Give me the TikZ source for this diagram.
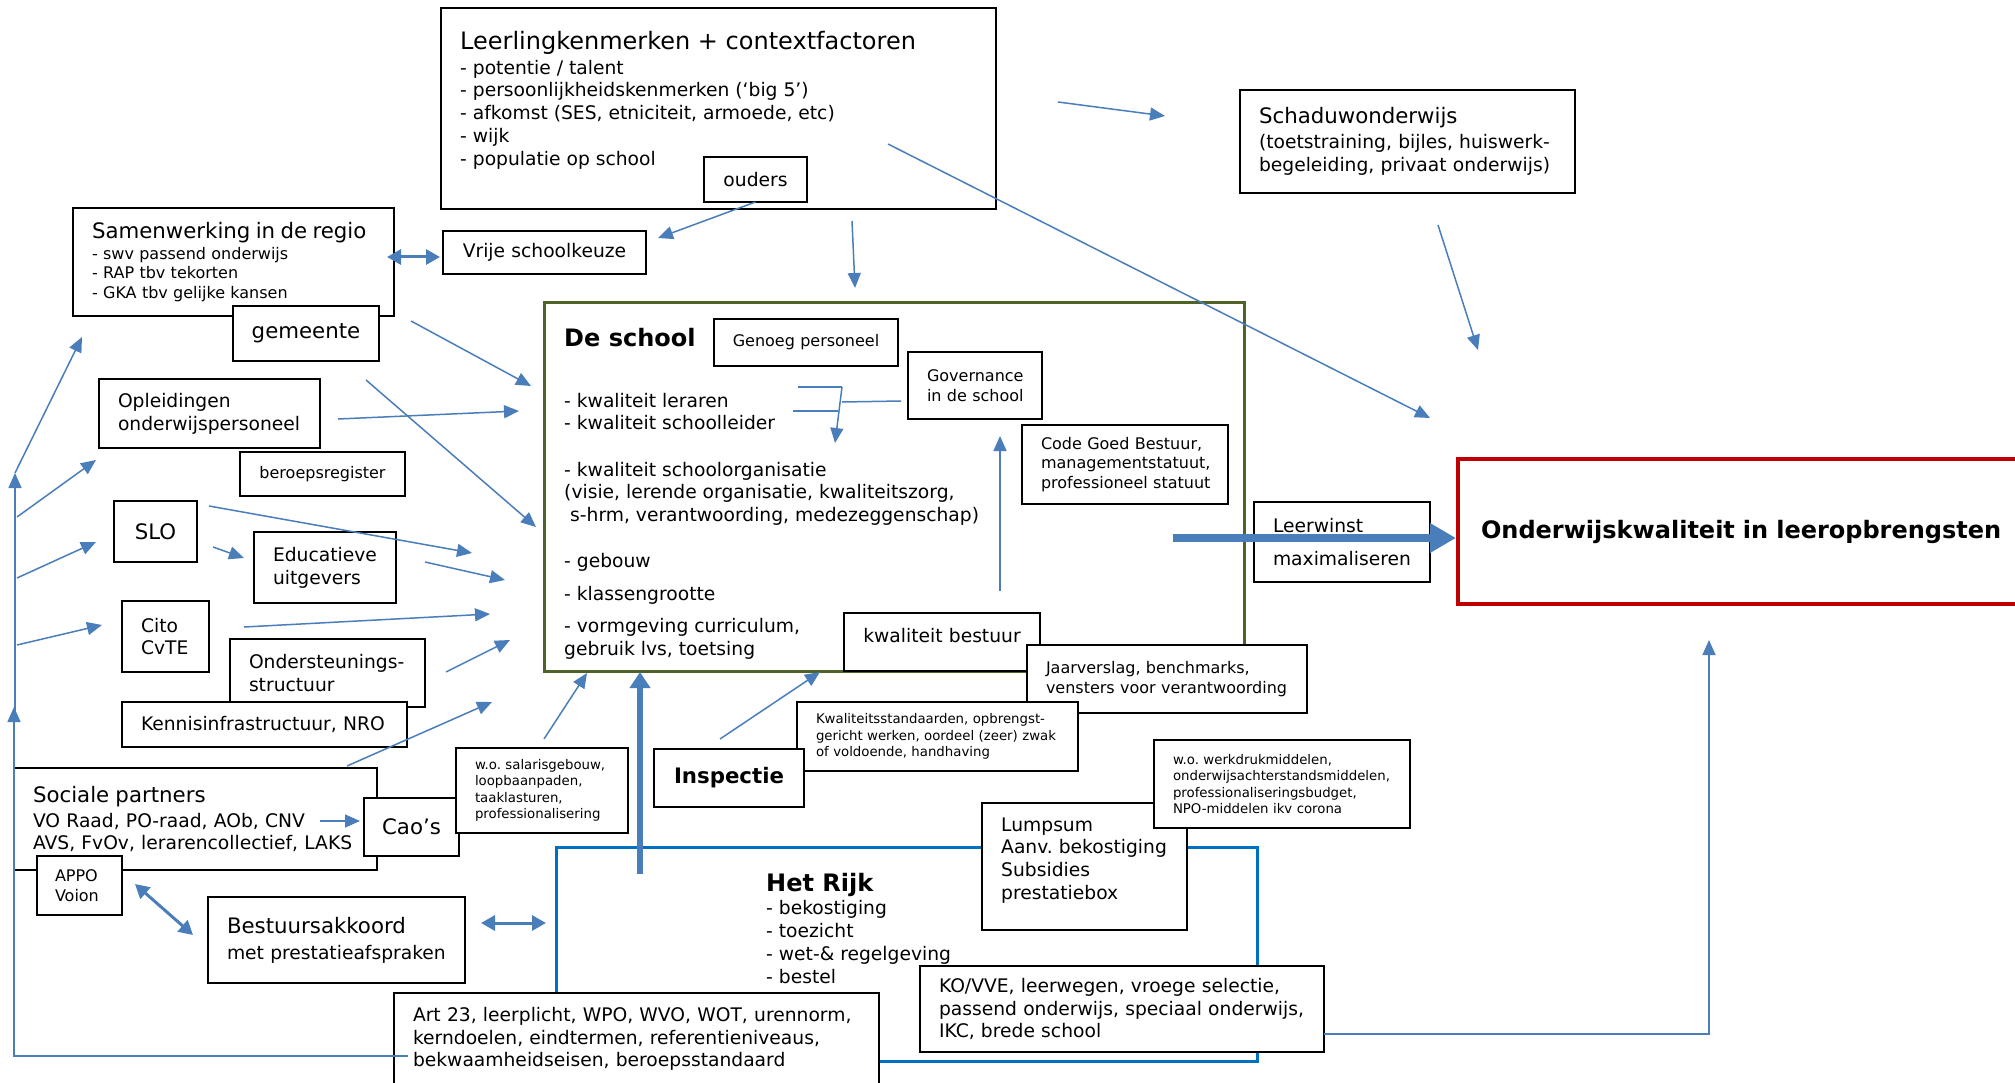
\documentclass[tikz,border=0pt]{standalone}
\usepackage{fontspec}
\setmainfont{DejaVu Sans}
\usepackage{tikz}
\usetikzlibrary{arrows.meta}
\usetikzlibrary{calc}
\definecolor{arrowblue}{HTML}{4A7EBB}
\definecolor{rijkblue}{HTML}{0070C0}
\definecolor{schoolgreen}{HTML}{4F6228}
\definecolor{goalred}{HTML}{C00000}
\newcommand\fsB{\fontsize{24}{29}\selectfont}
\newcommand\fsL{\fontsize{21.3}{26}\selectfont}
\newcommand\fsN{\fontsize{18.7}{22.8}\selectfont}
\newcommand\fsS{\fontsize{16}{19.4}\selectfont}
\newcommand\fsX{\fontsize{13.3}{16.4}\selectfont}
\hyphenpenalty=10000
\exhyphenpenalty=10000
\frenchspacing
\tikzset{
    lpad/.style={execute at begin node={\leftskip=#1\rightskip=-40pt plus 1fil\relax}},
    box/.style={draw, fill=white, line width=1.4pt, anchor=north west, outer sep=0pt,
        inner sep=0pt, align=left, font=\fsN, lpad=19pt},
    cbox/.style={draw, fill=white, line width=1.4pt, anchor=north west, outer sep=0pt,
        inner sep=0pt, align=center, font=\fsN},
    frame/.style={draw=#1, line width=3pt, anchor=north west, outer sep=0pt, inner sep=0pt},
    wh/.style 2 args={minimum width=#1, text width=#1, minimum height=#2},
    txt/.style={anchor=north west, inner sep=0pt, align=left, font=\fsN},
    arr/.style={arrowblue, line width=1.5pt, -{Triangle[length=15pt,width=13pt]}},
    link/.style={arrowblue, line width=1.5pt},
    darr/.style={arrowblue, line width=3pt,
        {Triangle[length=14pt,width=15pt]}-{Triangle[length=14pt,width=15pt]}},
    fat/.style={arrowblue, line width=6pt, -{Triangle[length=16pt,width=20pt]}},
    fatter/.style={arrowblue, line width=8pt, -{Triangle[length=26pt,width=28pt]}},
}

\begin{document}
\begin{tikzpicture}[x=1pt, y=-1pt]
    \useasboundingbox (0,0) rectangle (2015,1083);
    \clip (0,0) rectangle (2015,1083);
    \fill[white] (0,0) rectangle (2015,1083);

    % top row
    \node[box, wh={555}{201}] (leer) at (441,8) {};
    \node[txt] (leertxt) at (460,31.5) {{\fsB Leerlingkenmerken + contextfactoren}\\[1.3pt]
        - potentie / talent\\
        - persoonlijkheidskenmerken (‘big 5’)\\
        - afkomst (SES, etniciteit, armoede, etc)\\
        - wijk\\
        - populatie op school};
    \node[cbox, wh={103}{45}] (ouders) at (704,157) {ouders};
    \node[box, wh={335}{103}] (schad) at (1240,90) {{\fsL Schaduwonderwijs}\\[2pt]
        (toetstraining, bijles, huiswerk-\\begeleiding, privaat onderwijs)};

    % de school
    \node[frame=schoolgreen, minimum width=700, minimum height=369] (school) at (544,302) {};
    \node[txt, font=\bfseries\fsB] (schooltitle) at (564,327.6) {De school};
    \node[txt] (schoollist) at (564,392.7) {- kwaliteit leraren\\
        - kwaliteit schoolleider\\[23.4pt]
        - kwaliteit schoolorganisatie\\
        (visie, lerende organisatie, kwaliteitszorg,\\
        \ s-hrm, verantwoording, medezeggenschap)\\[23.4pt]
        - gebouw\\[9.5pt]
        - klassengrootte\\[9.5pt]
        - vormgeving curriculum,\\
        gebruik lvs, toetsing};
    \node[cbox, wh={184}{47}, font=\fsS] (genoeg) at (714,319) {Genoeg personeel};
    \node[box, wh={134}{67}, font=\fsS] (gov) at (908,352) {Governance\\in de school};
    \node[box, wh={206}{79}, font=\fsS] (code) at (1022,425) {Code Goed Bestuur,\\managementstatuut,\\professioneel statuut};
    \node[cbox, wh={196}{58}] (kb) at (844,613) {\raisebox{6pt}[\height][\depth]{kwaliteit bestuur}};
    \node[box, wh={280}{68}, font=\fsS] (jaar) at (1027,645) {Jaarverslag, benchmarks,\\vensters voor verantwoording};
    \node[box, wh={176}{80}] (leerw) at (1254,502) {Leerwinst\\[10.6pt]maximaliseren};
    \node[box, wh={572}{145}, draw=goalred, line width=3.5pt, font=\bfseries\fsB, lpad=23pt] (goal) at (1458,459) {Onderwijskwaliteit in leeropbrengsten};

    % left column
    \node[box, wh={321}{108}, font=\fsS] (samen) at (73,208) {{\fsL Samenwerking in de regio}\\[1.6pt]
        - swv passend onderwijs\\- RAP tbv tekorten\\- GKA tbv gelijke kansen};
    \node[cbox, wh={146}{55}, font=\fsL] (gem) at (233,306) {gemeente};
    \node[cbox, wh={203}{43}] (vrije) at (443,231) {Vrije schoolkeuze};
    \node[box, wh={221}{69}] (opl) at (99,379) {Opleidingen\\onderwijspersoneel};
    \node[cbox, wh={165}{44}, font=\fsS] (berp) at (240,452) {beroepsregister};
    \node[cbox, wh={83}{61}, font=\fsL] (slo) at (114,501) {SLO};
    \node[box, wh={142}{71}] (edu) at (254,532) {Educatieve\\uitgevers};
    \node[box, wh={87}{71}] (cito) at (122,601) {Cito\\CvTE};
    \node[box, wh={195}{68}] (onder) at (230,639) {Ondersteunings-\\structuur};
    \node[box, wh={285}{45}] (kennis) at (122,702) {Kennisinfrastructuur, NRO};
    \node[box, wh={363}{102}] (soc) at (14,768) {{\fsL Sociale partners}\\[2pt]
        VO Raad, PO-raad, AOb, CNV\\AVS, FvOv, lerarencollectief, LAKS};
    \node[cbox, wh={95}{58}, font=\fsL] (cao) at (364,798) {Cao’s};
    \node[box, wh={172}{85}, font=\fsX] (sal) at (456,748) {w.o. salarisgebouw,\\loopbaanpaden,\\taaklasturen,\\professionalisering};
    \node[box, wh={85}{59}, font=\fsS, lpad=18pt] (appo) at (37,856) {APPO\\[1.2pt]Voion};
    \node[box, wh={257}{86}] (best) at (208,897) {{\fsL Bestuursakkoord}\\[3pt]met prestatieafspraken};

    % inspectie en het rijk
    \node[box, wh={281}{69}, font=\fsX] (kwal) at (797,702) {Kwaliteitsstandaarden, opbrengst-\\gericht werken, oordeel (zeer) zwak\\of voldoende, handhaving};
    \node[cbox, wh={150}{58}, font=\bfseries\fsL] (insp) at (654,749) {Inspectie};
    \node[frame=rijkblue, minimum width=701, minimum height=214] (rijk) at (556,847) {};
    \node[txt] (rijktxt) at (766,872.6) {{\bfseries\fsB Het Rijk}\\[1pt]
        - bekostiging\\- toezicht\\- wet-\& regelgeving\\- bestel};
    \node[box, wh={205}{127}] (lump) at (982,803) {};
    \node[txt] (lumptxt) at (1001,817.3) {Lumpsum\\Aanv. bekostiging\\Subsidies\\prestatiebox};
    \node[box, wh={256}{88}, font=\fsX] (werk) at (1154,740) {w.o. werkdrukmiddelen,\\onderwijsachterstandsmiddelen,\\professionaliseringsbudget,\\NPO-middelen ikv corona};
    \node[box, wh={485}{92}] (art) at (394,993) {Art 23, leerplicht, WPO, WVO, WOT, urennorm,\\kerndoelen, eindtermen, referentieniveaus,\\bekwaamheidseisen, beroepsstandaard};
    \node[box, wh={404}{86}] (ko) at (920,966) {KO/VVE, leerwegen, vroege selectie,\\passend onderwijs, speciaal onderwijs,\\IKC, brede school};

    % arrows
    \draw[arr] ($(leer.north east)+(62,94)$) -- ($(schad.west)+(-75,-25.5)$);
    \draw[arr] ($(leer.south east)+(-108,-65)$) -- ($(goal.north west)+(-28,-41)$);
    \draw[arr] ($(leer.south)+(133.5,12)$) -- ($(school.north)+(-39,-14)$);
    \draw[arr] (ouders.south) -- ($(vrije.north east)+(12,7)$);
    \draw[darr] ($(samen.east)+(-7,-5)$) -- ($(vrije.west)+(-3,4.5)$);
    \draw[arr] ($(schad.south)+(30.5,32)$) -- ($(goal.north west)+(20,-109)$);
    \draw[arr] ($(gem.east)+(32,-12.5)$) -- ($(school.north west)+(-13,84)$);
    \draw[arr] ($(gem.south)+(60,19)$) -- ($(school.west)+(-8,40.5)$);
    \draw[arr] ($(opl.east)+(18,5.5)$) -- ($(school.west)+(-25,-75.5)$);
    \draw[arr] ($(slo.north east)+(12,5)$) -- ($(school.west)+(-72,66.5)$);
    \draw[arr] ($(slo.east)+(16,15.5)$) -- ($(edu.west)+(-10,-9.5)$);
    \draw[arr] ($(edu.east)+(29,-5.5)$) -- ($(school.west)+(-39,93.5)$);
    \draw[arr] ($(cito.east)+(35,-9.5)$) -- ($(school.west)+(-54,127.5)$);
    \draw[arr] ($(onder.east)+(21,-1)$) -- ($(school.west)+(-34,153.5)$);
    \draw[arr] ($(soc.north)+(151.5,-2)$) -- ($(school.south west)+(-52,31)$);
    \draw[arr] ($(sal.north)+(2,-9)$) -- ($(school.south west)+(43,2)$);
    \draw[fat] ($(rijk.north west)+(84,27)$) -- ($(school.south west)+(96,1)$);
    \draw[arr] ($(insp.north)+(-9,-10)$) -- ($(school.south west)+(276,1)$);
    \draw[arr] ($(kb.north)+(58,-22)$) -- ($(gov.south)+(25,17)$);
    \draw[fatter] ($(leerw.west)+(-81,-4)$) -- ($(goal.west)+(-2,6.5)$);
    \draw[arr] ($(soc.east)+(-57,2)$) -- ($(cao.west)+(-4,-6)$);
    \draw[darr] ($(appo.east)+(13,-1.5)$) -- ($(best.north west)+(-15,38)$);
    \draw[darr] ($(best.east)+(16,-17)$) -- ($(rijk.west)+(-10,-31)$);
    \draw[arr] ($(ko.east)+(0,25)$) -| ($(goal.south west)+(251,36)$);

    % governance bracket
    \coordinate (brk) at ($(gov.west)+(-66,1.5)$);
    \draw[link] ($(gov.west)+(-7,15.5)$) -- ($(brk)+(0,15)$);
    \draw[link] ($(brk)+(-44,0)$) -- (brk);
    \draw[link] ($(brk)+(-49,24)$) -- ($(brk)+(-4,24)$);
    \draw[arr] (brk) -- ($(brk)+(-7,56)$);

    % left spine
    \coordinate (spine) at (14,707);
    \coordinate (spinetop) at (15,473);
    \draw[arr] ($(art.west)+(14,17)$) -| (spine);
    \draw[arr] ($(spine)+(1,5)$) -- (spinetop);
    \draw[arr] ($(spinetop)+(2,44)$) -- ($(opl.south west)+(-3,12)$);
    \draw[arr] ($(spinetop)+(2,105)$) -- ($(slo.west)+(-18,10.5)$);
    \draw[arr] ($(spinetop)+(2,172)$) -- ($(cito.west)+(-20,-11.5)$);
    \draw[arr] (spinetop) -- ($(samen.south west)+(9,21)$);
\end{tikzpicture}
\end{document}
